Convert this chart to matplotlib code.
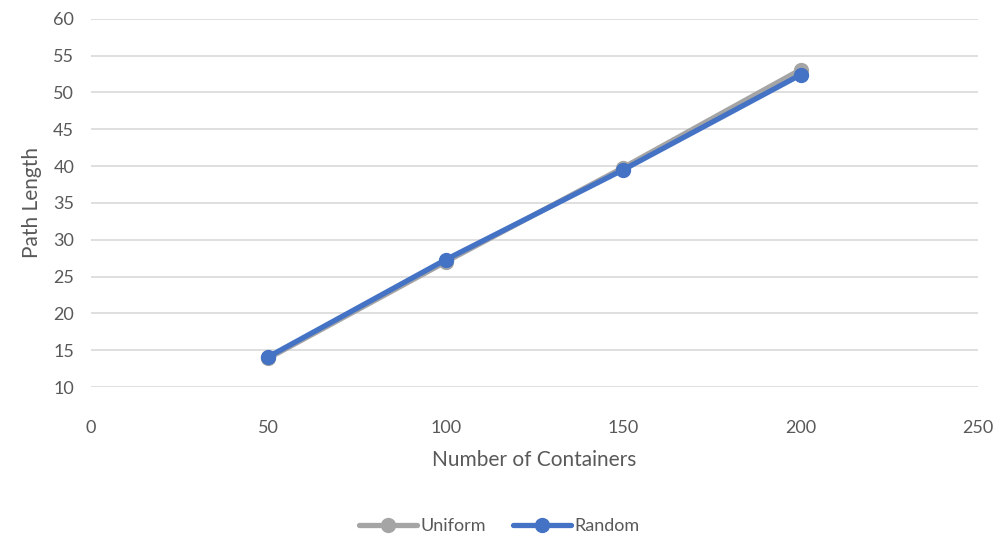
import matplotlib.pyplot as plt

# データ
containers = [50, 100, 150, 200]
uniform = [13.9, 27.0, 39.8, 53.1]
random_vals = [14.1, 27.3, 39.5, 52.4]

text_color = '#595959'
plt.rcParams['font.family'] = ['Lato', 'DejaVu Sans']

fig = plt.figure(figsize=(9.99, 5.39), dpi=100)
ax = fig.add_axes([0.091, 0.282, 0.888, 0.683])

ax.plot(containers, uniform, color='#A5A5A5', lw=3.8, marker='o', ms=10,
        label='Uniform', solid_capstyle='round', zorder=3)
ax.plot(containers, random_vals, color='#4472C4', lw=3.8, marker='o', ms=10,
        label='Random', solid_capstyle='round', zorder=4)

ax.set_xlim(0, 250)
ax.set_ylim(10, 60)
ax.set_xticks(range(0, 251, 50))
ax.set_yticks(range(10, 61, 5))
ax.grid(axis='y', color='#D9D9D9', lw=1.2)
ax.set_axisbelow(True)
for s in ax.spines.values():
    s.set_visible(False)
ax.tick_params(length=0, labelsize=13, labelcolor=text_color)
ax.tick_params(axis='x', pad=24)
ax.tick_params(axis='y', pad=12)

ax.set_xlabel('Number of Containers', fontsize=15, color=text_color, labelpad=10)
ax.set_ylabel('Path Length', fontsize=15, color=text_color, labelpad=8)

fig.legend(loc='center', bbox_to_anchor=(0.5, 0.024), ncol=2, frameon=False,
           fontsize=13, labelcolor=text_color, handlelength=3.2, columnspacing=1.5,
           handletextpad=0.2)

plt.savefig('out.png')
